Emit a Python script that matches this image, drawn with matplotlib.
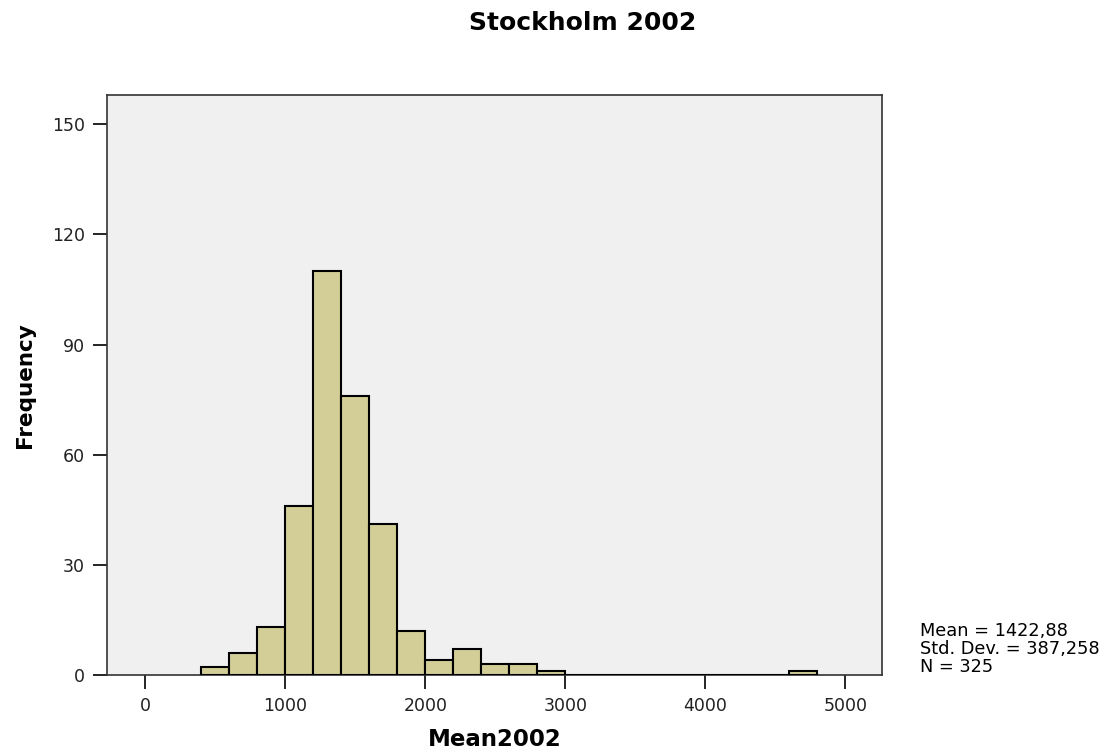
import numpy as np
import matplotlib
matplotlib.use('Agg')
import matplotlib.pyplot as plt

plt.rcParams['font.family'] = ['DejaVu Sans']

# histogram bins (width 200) and their counts
bin_edges = [400, 600, 800, 1000, 1200, 1400, 1600, 1800, 2000, 2200, 2400,
             2600, 2800, 3000, 3200, 3400, 3600, 3800, 4000, 4200, 4400,
             4600, 4800]
counts = [2, 6, 13, 46, 110, 76, 41, 12, 4, 7, 3,
          3, 1, 0, 0, 0, 0, 0, 0, 0, 0,
          1]

x_ticks = [0, 1000, 2000, 3000, 4000, 5000]
y_ticks = [0, 30, 60, 90, 120, 150]
stats_text = 'Mean = 1422,88\nStd. Dev. = 387,258\nN = 325'

fig = plt.figure(figsize=(11.11, 7.54), dpi=100)
ax = fig.add_axes([0.0963, 0.105, 0.698, 0.769])
ax.set_facecolor('#f0f0f0')

left = np.array(bin_edges[:-1])
width = np.diff(bin_edges)
ax.bar(left, counts, width=width, align='edge', color='#d3ce97',
       edgecolor='black', linewidth=1.5, zorder=3)

ax.set_xlim(-275, 5265)
ax.set_ylim(0, 158)
ax.set_xticks(x_ticks)
ax.set_yticks(y_ticks)
ax.tick_params(direction='out', length=10, width=1.2, labelsize=12.5,
               labelcolor='#222222', pad=6)
for s in ax.spines.values():
    s.set_linewidth(1.2)
    s.set_color('#333333')

ax.set_xlabel('Mean2002', fontsize=16.5, fontweight='bold', labelpad=9)
ax.set_ylabel('Frequency', fontsize=15.5, fontweight='bold', labelpad=12)
fig.text(0.524, 0.969, 'Stockholm 2002', fontsize=18, fontweight='bold',
         ha='center', va='center')
fig.text(0.828, 0.139, stats_text, fontsize=12.8, ha='left', va='center',
         linespacing=0.98)

fig.savefig('out.png', dpi=100)
